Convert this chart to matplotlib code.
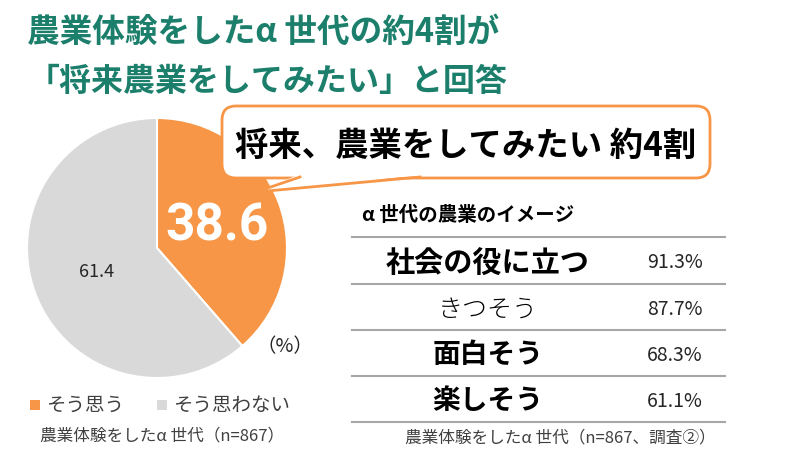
import matplotlib.pyplot as plt
from matplotlib.patches import FancyBboxPatch, Polygon, Rectangle

plt.rcParams['font.family'] = ['Noto Sans CJK JP', 'DejaVu Sans']

# data
title_lines = ['農業体験をしたα 世代の約4割が', '「将来農業をしてみたい」と回答']
pie_labels = ['そう思う', 'そう思わない']
pie_values = [38.6, 61.4]
pie_colors = ['#F79646', '#D9D9D9']
callout = '将来、農業をしてみたい 約4割'
table_title = 'α 世代の農業のイメージ'
image_labels = ['社会の役に立つ', 'きつそう', '面白そう', '楽しそう']
image_values = [91.3, 87.7, 68.3, 61.1]
image_bold = [True, False, True, True]
image_sizes = [21, 18, 20, 20]
note_left = '農業体験をしたα 世代（n=867）'
note_right = '農業体験をしたα 世代（n=867、調査②）'

teal = '#1B7F6C'
orange = '#F79646'

fig = plt.figure(figsize=(8, 4.61), dpi=100)
bg = fig.add_axes([0, 0, 1, 1])
bg.set_xlim(0, 800)
bg.set_ylim(461, 0)
bg.axis('off')

# title
bg.text(27, 32, title_lines[0], fontsize=23.5, fontweight='bold', color=teal, va='center')
bg.text(28, 82, title_lines[1], fontsize=23, fontweight='bold', color=teal, va='center')

# pie
ax = fig.add_axes([27 / 800, (461 - 378) / 461, 260 / 800, 260 / 461])
wedges, _ = ax.pie(pie_values, colors=pie_colors, startangle=90, counterclock=False,
                   wedgeprops=dict(edgecolor='white', linewidth=1.5))
ax.set_xlim(-1, 1)
ax.set_ylim(-1, 1)
ax.set_zorder(0)

bg.set_zorder(1)
bg.patch.set_alpha(0)

bg.text(217, 226, f'{pie_values[0]}', fontsize=37, fontweight='bold', color='white',
        ha='center', va='center', fontstretch='condensed',
        family=['Liberation Sans Narrow', 'DejaVu Sans Condensed', 'Roboto'])
bg.text(97, 272, f'{pie_values[1]}', fontsize=13, color='#262626', ha='center', va='center')
bg.text(285, 347, '（%）', fontsize=14, color='#262626', ha='center', va='center')

# legend
legend_x = [30, 157]
for x, lab, col in zip(legend_x, pie_labels, pie_colors):
    bg.add_patch(Rectangle((x, 400), 10, 10, facecolor=col, edgecolor='none'))
    bg.text(x + 16, 405, lab, fontsize=14, color='#404040', va='center')
bg.text(40, 436, note_left, fontsize=12, color='#404040', va='center')

# callout bubble
box = FancyBboxPatch((222, 106), 488, 72, boxstyle='round,pad=0,rounding_size=14',
                     facecolor='white', edgecolor=orange, linewidth=2)
bg.add_patch(box)
tail = [(300, 177), (256, 192), (420, 177)]
bg.add_patch(Polygon([(298, 175), (256, 192), (422, 175)], closed=True,
                     facecolor='white', edgecolor='none', zorder=3))
bg.plot([tail[0][0], tail[1][0], tail[2][0]], [tail[0][1], tail[1][1], tail[2][1]],
        color=orange, linewidth=2, zorder=4, solid_joinstyle='miter')
bg.text(466, 146, callout, fontsize=24, fontweight='bold', color='black',
        ha='center', va='center', zorder=5)

# table
bg.text(362, 215, table_title, fontsize=14, fontweight='bold', color='black', va='center')
line_y = [237, 284, 330, 376, 422]
for y in line_y:
    bg.plot([352, 725], [y, y], color='#A6A6A6', linewidth=1.5)
for i, (lab, val) in enumerate(zip(image_labels, image_values)):
    yc = (line_y[i] + line_y[i + 1]) / 2 + 2
    bg.text(488, yc, lab, fontsize=image_sizes[i], color='black',
            fontweight='bold' if image_bold[i] else 'light', ha='center', va='center')
    bg.text(675, yc, f'{val}%', fontsize=14, color='#262626', ha='center', va='center')
bg.text(560, 438, note_right, fontsize=12, color='#404040', ha='center', va='center')

fig.savefig('out.png', dpi=100)
